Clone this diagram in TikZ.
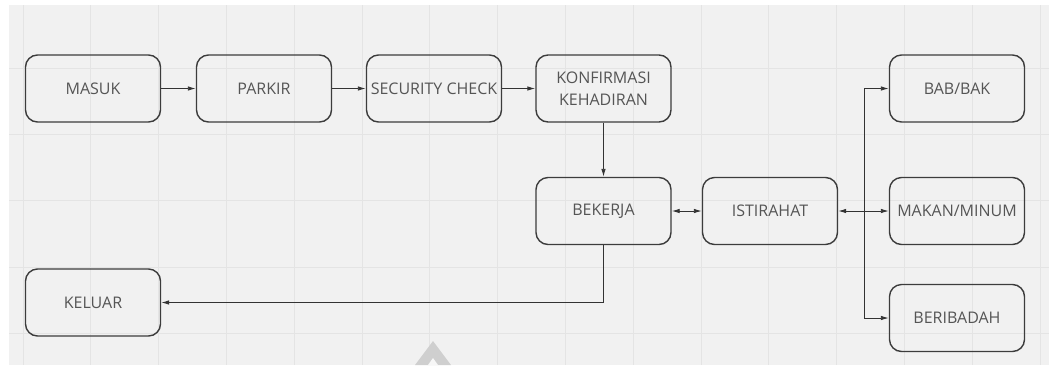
\documentclass[tikz,border=0pt]{standalone}
\usepackage{fontspec}
\setmainfont{Open Sans}
\usetikzlibrary{arrows.meta}
\definecolor{canvas}{HTML}{F1F1F1}
\definecolor{gridline}{HTML}{E4E4E4}
\definecolor{boxline}{HTML}{3C3C3C}
\definecolor{boxtext}{HTML}{555555}
\definecolor{linkline}{HTML}{333333}
\definecolor{logogrey}{HTML}{CFCFCF}
\tikzset{
  stepbox/.style={draw=boxline, line width=1.4pt, rounded corners=12pt,
    minimum width=135pt, minimum height=67pt, inner sep=1pt,
    text=boxtext, font=\fontsize{16}{22}\selectfont, align=center},
  link/.style={draw=linkline, line width=0.9pt,
    -{Latex[length=8pt,width=4.5pt]}},
  twoway/.style={draw=linkline, line width=0.9pt,
    {Latex[length=8pt,width=4.5pt]}-{Latex[length=8pt,width=4.5pt]}},
}
\begin{document}
\begin{tikzpicture}[x=1pt,y=-1pt]
  \useasboundingbox (0,0) rectangle (1049,365);
  % canvas and grid
  \fill[white] (0,0) rectangle (1049,365);
  \fill[canvas] (9,5) rectangle (1049,365);
  \begin{scope}
    \clip (9,5) rectangle (1049,365);
    \foreach \k in {0,...,15}
      \draw[gridline, line width=0.8pt] ({23+67.8*\k},5) -- ({23+67.8*\k},365);
    \foreach \k in {0,...,4}
      \draw[gridline, line width=0.8pt] (9,{68+66.3*\k}) -- (1049,{68+66.3*\k});
  \end{scope}
  % faint logo at the bottom edge
  \fill[logogrey] (415,365) -- (433,341) -- (451,365) -- cycle;
  \fill[canvas!60!white] (428,365) -- (433,358) -- (438,365) -- cycle;

  % steps
  \node[stepbox] (masuk)  at (93,88.5)    {MASUK};
  \node[stepbox] (parkir) at (264,88.5)   {PARKIR};
  \node[stepbox] (secur)  at (434,88.5)   {SECURITY CHECK};
  \node[stepbox] (konf)   at (603.5,88.5) {KONFIRMASI\\KEHADIRAN};
  \node[stepbox] (bab)    at (957,88.5)   {BAB/BAK};
  \node[stepbox] (kerja)  at (603.5,211)  {BEKERJA};
  \node[stepbox] (rehat)  at (770,211)    {ISTIRAHAT};
  \node[stepbox] (makan)  at (957,211)    {MAKAN/MINUM};
  \node[stepbox] (ibadah) at (957,318)    {BERIBADAH};
  \node[stepbox] (keluar) at (93,302.5)   {KELUAR};

  \coordinate (split) at (864,211);

  % connectors
  \draw[link] (masuk) -- (parkir);
  \draw[link] (parkir) -- (secur);
  \draw[link] (secur) -- (konf);
  \draw[link] (konf) -- (kerja);
  \draw[twoway] (kerja) -- (rehat);
  \draw[twoway] (rehat) -- (makan);
  \draw[link] (split) |- (bab);
  \draw[link] (split) |- (ibadah);
  \draw[link] (kerja.south) |- (keluar.east);
\end{tikzpicture}
\end{document}
